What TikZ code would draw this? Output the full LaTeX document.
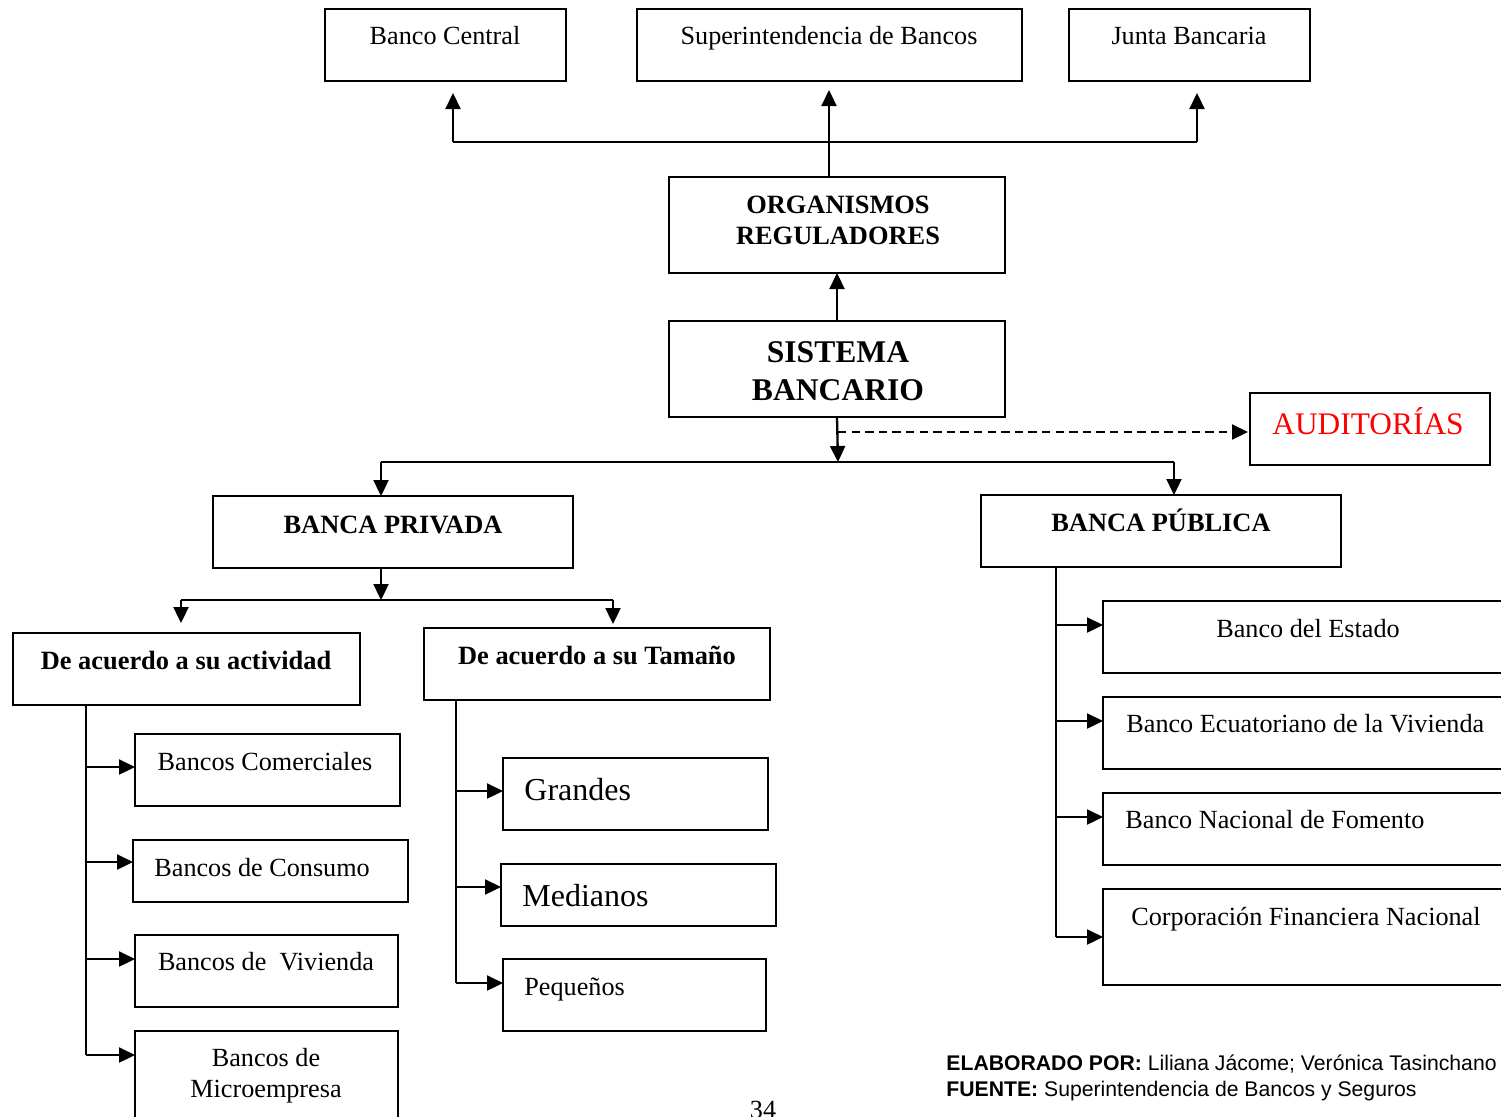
\documentclass[tikz,border=0pt]{standalone}
\usepackage{fontspec}
\setmainfont{Liberation Serif}
\newfontfamily\sansf{Liberation Sans}
\usetikzlibrary{arrows.meta,calc}
\newcommand\fs[2]{\fontsize{#1}{#2}\selectfont}
\newcommand\bx[5]{\node[box, minimum width={(#4-#2)*0.5pt}, minimum height={(#5-#3)*0.5pt}] (#1) at (#2,#3) {};}
\begin{document}
\begin{tikzpicture}[x=0.5pt,y=-0.5pt,
 box/.style={draw, line width=1pt, inner sep=0pt, outer sep=0pt, anchor=north west},
 ln/.style={line width=1.15pt},
 arr/.style={line width=1.15pt, -{Triangle[length=8pt,width=7.5pt]}},
 dsh/.style={line width=1.1pt, dash pattern=on 4.2pt off 2.6pt, -{Triangle[length=8pt,width=7.5pt]}},
 tc/.style={inner sep=0pt, anchor=base, font=\fs{13.1}{15}},
 tl/.style={inner sep=0pt, anchor=base west, font=\fs{13.1}{15}},
 hb/.style={inner sep=0pt, anchor=base, font=\fs{13.2}{15}\bfseries},
 ]
\useasboundingbox (0,0) rectangle (1501,1116);
\clip (0,0) rectangle (1501,1116);

% boxes
\bx{bc}{325}{9}{566}{81}
\bx{sbx}{637}{9}{1022}{81}
\bx{jb}{1069}{9}{1310}{81}
\bx{org}{669}{177}{1005}{273}
\bx{sis}{669}{321}{1005}{417}
\bx{aud}{1250}{393}{1490}{465}
\bx{bpr}{213}{496}{573}{568}
\bx{bpu}{981}{495}{1341}{567}
\bx{act}{13}{633}{360}{705}
\bx{tam}{424}{628}{770}{700}
\bx{com}{135}{734}{400}{806}
\bx{con}{133}{840}{408}{902}
\bx{viv}{135}{935}{398}{1007}
\bx{mic}{135}{1031}{398}{1140}
\bx{gra}{503}{758}{768}{830}
\bx{med}{501}{864}{776}{926}
\bx{peq}{503}{959}{766}{1031}
\bx{est}{1103}{601}{1530}{673}
\bx{ecu}{1103}{697}{1530}{769}
\bx{nac}{1103}{793}{1530}{865}
\bx{cfn}{1103}{889}{1530}{985}

% texts
\node[tc] (t-bc) at (445,44) {Banco Central};
\node[tc] (t-sb) at (829,44) {Superintendencia de Bancos};
\node[tc] (t-jb) at (1189,44) {Junta Bancaria};
\node[hb] (t-org1) at (838,213) {ORGANISMOS};
\node[hb] (t-org2) at (838,244) {REGULADORES};
\node[hb, font=\fs{15.8}{19}\bfseries] (t-sis1) at (838,362) {SISTEMA};
\node[hb, font=\fs{15.8}{19}\bfseries] (t-sis2) at (838,400) {BANCARIO};
\node[tc, font=\fs{15.7}{19}, text=red] (t-aud) at (1368,434) {AUDITORÍAS};
\node[hb] (t-bpr) at (393,533) {BANCA PRIVADA};
\node[hb] (t-bpu) at (1161,531) {BANCA PÚBLICA};
\node[hb] (t-act) at (186,669) {De acuerdo a su actividad};
\node[hb] (t-tam) at (597,664) {De acuerdo a su Tamaño};
\node[tc] (t-com) at (265,770) {Bancos Comerciales};
\node[tl] (t-con) at (154,876) {Bancos de Consumo};
\node[tc] (t-viv) at (266,970) {Bancos de\ \ Vivienda};
\node[tc] (t-mic1) at (266,1066) {Bancos de};
\node[tc] (t-mic2) at (266,1097) {Microempresa};
\node[tl, font=\fs{16}{19}] (t-gra) at (524,800) {Grandes};
\node[tl, font=\fs{16}{19}] (t-med) at (522,906) {Medianos};
\node[tl] (t-peq) at (524,995) {Pequeños};
\node[tc] (t-est) at (1308,637) {Banco del Estado};
\node[tl] (t-ecu) at (1126,732) {Banco Ecuatoriano de la Vivienda};
\node[tl] (t-nac) at (1125,828) {Banco Nacional de Fomento};
\node[tl] (t-cfn) at (1131,925) {Corporación Financiera Nacional};
\node[tl, font=\sansf\fs{10.6}{13}] (t-ela) at (946,1070) {\textbf{ELABORADO POR:} Liliana Jácome; Verónica Tasinchano};
\node[tl, font=\sansf\fs{10.6}{13}] (t-fue) at (946,1096) {\textbf{FUENTE:} Superintendencia de Bancos y Seguros};
\node[tc] (t-pag) at (763,1118) {34};

% top connectors
\coordinate (jt) at (829,142);
\coordinate (hl) at (453,142);
\coordinate (hr) at (1197,142);
\draw[ln] (org.north -| jt) -- (jt);
\draw[ln] (hl) -- (hr);
\draw[arr] (hl) -- ($(bc.south -| hl)+(0,12)$);
\draw[arr] (jt) -- ($(sbx.south -| jt)+(0,9)$);
\draw[arr] (hr) -- ($(jb.south -| hr)+(0,12)$);
\draw[arr] (sis.north) -- (org.south);

% middle connectors
\coordinate (mj) at (838,462);
\coordinate (dj) at (838,432);
\coordinate (pl) at (381,462);
\coordinate (pr) at (1174,462);
\draw[arr] (sis.south) -- (mj);
\draw[dsh] (dj) -- ($(dj -| aud.west)+(-2,0)$);
\draw[ln] (pl) -- (pr);
\draw[arr] (pl) -- (bpr.north -| pl);
\draw[arr] (pr) -- (bpu.north -| pr);

\coordinate (pj) at (381,600);
\coordinate (al) at (181,600);
\coordinate (ar) at (613,600);
\draw[arr] (bpr.south -| pj) -- (pj);
\draw[ln] (al) -- (ar);
\draw[arr] (al) -- ($(act.north -| al)+(0,-10)$);
\draw[arr] (ar) -- ($(tam.north -| ar)+(0,-4)$);

% left branch
\coordinate (L1) at (86,767);
\coordinate (L2) at (86,862);
\coordinate (L3) at (86,959);
\coordinate (L4) at (86,1055);
\draw[ln] (act.south -| L1) -- (L4);
\draw[arr] (L1) -- (L1 -| com.west);
\draw[arr] (L2) -- (L2 -| con.west);
\draw[arr] (L3) -- (L3 -| viv.west);
\draw[arr] (L4) -- (L4 -| mic.west);

% middle branch
\coordinate (M1) at (456,791);
\coordinate (M2) at (456,887);
\coordinate (M3) at (456,983);
\draw[ln] (tam.south -| M1) -- (M3);
\draw[arr] (M1) -- (M1 -| gra.west);
\draw[arr] (M2) -- (M2 -| med.west);
\draw[arr] (M3) -- (M3 -| peq.west);

% right branch
\coordinate (R1) at (1056,625);
\coordinate (R2) at (1056,721);
\coordinate (R3) at (1056,817);
\coordinate (R4) at (1056,937);
\draw[ln] (bpu.south -| R1) -- (R4);
\draw[arr] (R1) -- (R1 -| est.west);
\draw[arr] (R2) -- (R2 -| ecu.west);
\draw[arr] (R3) -- (R3 -| nac.west);
\draw[arr] (R4) -- (R4 -| cfn.west);
\end{tikzpicture}
\end{document}
